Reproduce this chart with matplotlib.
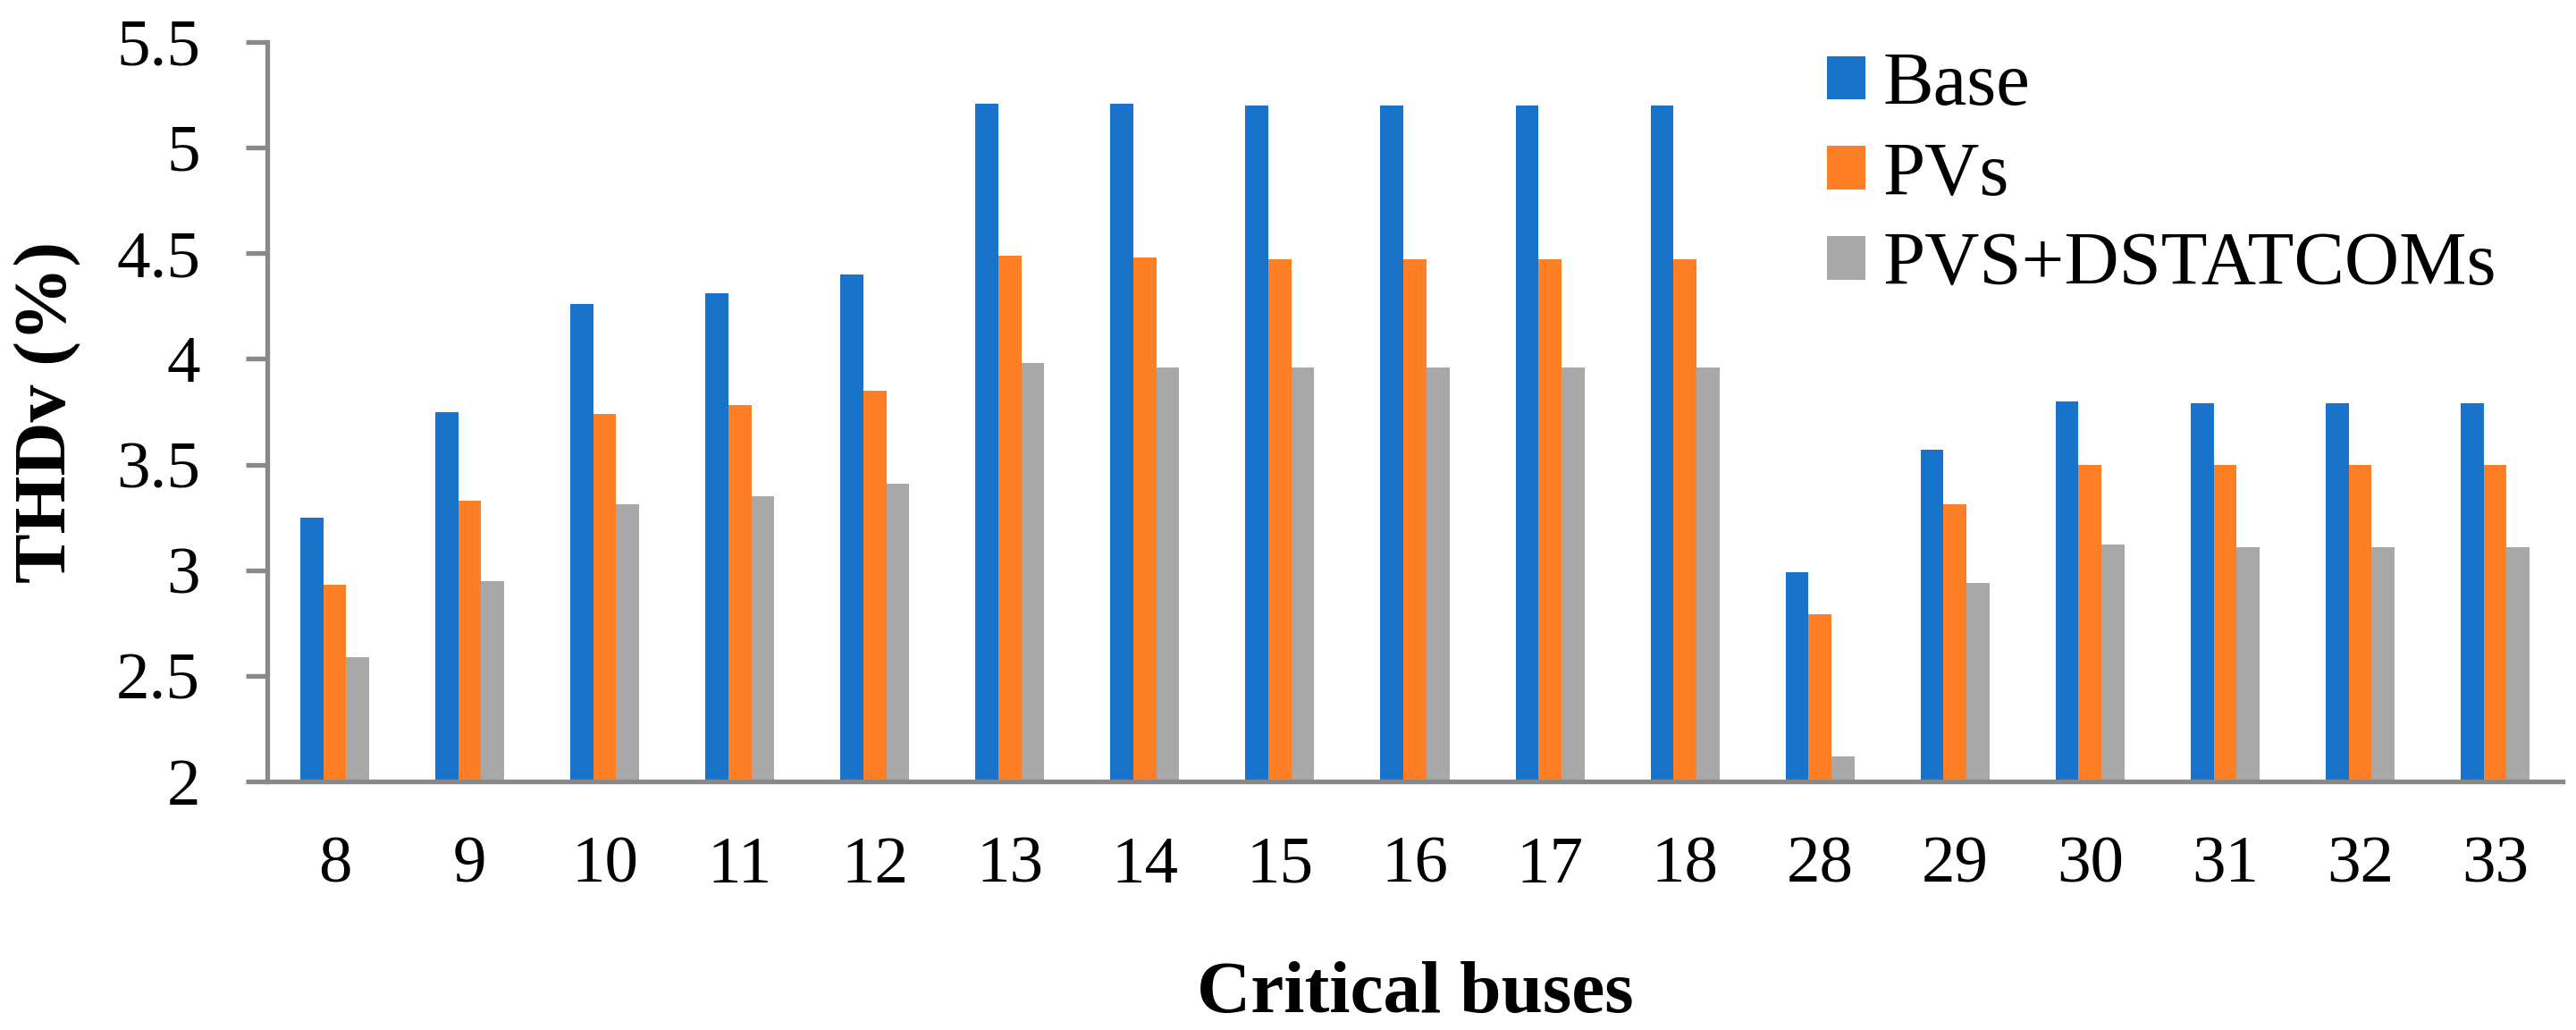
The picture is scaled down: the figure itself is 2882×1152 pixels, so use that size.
import numpy as np
import matplotlib
matplotlib.use("Agg")
import matplotlib.pyplot as plt

# Data
buses = ['8', '9', '10', '11', '12', '13', '14', '15', '16',
         '17', '18', '28', '29', '30', '31', '32', '33']
base = [3.25, 3.75, 4.26, 4.31, 4.40, 5.21, 5.21, 5.20, 5.20,
        5.20, 5.20, 2.99, 3.57, 3.80, 3.79, 3.79, 3.79]
pvs = [2.93, 3.33, 3.74, 3.78, 3.85, 4.49, 4.48, 4.47, 4.47,
       4.47, 4.47, 2.79, 3.31, 3.50, 3.50, 3.50, 3.50]
pvs_dstatcom = [2.59, 2.95, 3.31, 3.35, 3.41, 3.98, 3.96, 3.96, 3.96,
                3.96, 3.96, 2.12, 2.94, 3.12, 3.11, 3.11, 3.11]
series_names = ['Base', 'PVs', 'PVS+DSTATCOMs']
colors = ['#1874CB', '#FF7F27', '#A8A8A8']

plt.rcParams['font.family'] = ['Liberation Serif', 'DejaVu Serif']

W, H = 2882, 1152
fig = plt.figure(figsize=(W / 100, H / 100), dpi=100)
ax = fig.add_axes([299 / W, 1 - 874 / H, (2867 - 299) / W, (874 - 47) / H])

x = np.arange(len(buses))
w = 0.17
for i, (vals, name) in enumerate(zip([base, pvs, pvs_dstatcom], series_names)):
    ax.bar(x + (i - 1) * w, np.array(vals) - 2, width=w, bottom=2,
           color=colors[i], label=name, zorder=2)

ax.set_xlim(-0.5, len(buses) - 0.5)
ax.set_ylim(2, 5.5)
ax.set_yticks(np.arange(2, 5.51, 0.5))
ax.set_yticklabels(['2', '2.5', '3', '3.5', '4', '4.5', '5', '5.5'])
ax.set_xticks(x)
ax.set_xticklabels(buses)

spine_col = '#898989'
for side in ['top', 'right']:
    ax.spines[side].set_visible(False)
for side in ['left', 'bottom']:
    ax.spines[side].set_color(spine_col)
    ax.spines[side].set_linewidth(3.8)
ax.spines['bottom'].set_zorder(3)

ax.tick_params(axis='y', direction='out', length=17, width=3.8,
               color=spine_col, labelsize=54, pad=37)
ax.tick_params(axis='x', length=0, labelsize=54, pad=44)

ax.set_ylabel('THDv (%)', fontsize=60, fontweight='bold', va='center')
ax.yaxis.set_label_coords((54 - 299) / (2867 - 299), 0.5)
ax.set_xlabel('Critical buses', fontsize=60, fontweight='bold', va='center')
ax.xaxis.set_label_coords(0.5, (874 - 1112) / (874 - 47))

ax.legend(loc='upper left', bbox_to_anchor=(2044 / W, 1 - 58 / H),
          bbox_transform=fig.transFigure, frameon=False, fontsize=61,
          handlelength=0.51, handleheight=0.51, handletextpad=0.23,
          labelspacing=0.28, borderpad=0, borderaxespad=0)

fig.savefig('out.png', dpi=100)
